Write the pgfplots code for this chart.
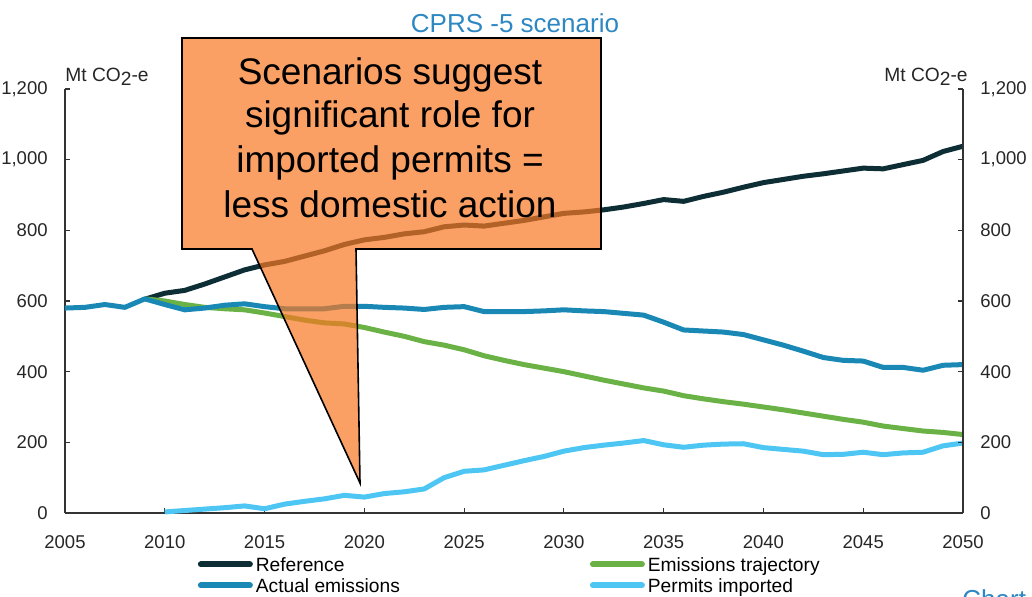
\documentclass[border=0pt]{standalone}
\usepackage{pgfplots}
\pgfplotsset{compat=1.18}
\usepackage{fontspec}
\setmainfont{Liberation Sans}
\definecolor{refc}{RGB}{14,46,54}
\definecolor{actc}{RGB}{26,136,180}
\definecolor{trjc}{RGB}{106,178,69}
\definecolor{prmc}{RGB}{77,198,244}
\definecolor{titc}{RGB}{45,135,195}
\definecolor{callc}{RGB}{248,119,34}
\begin{document}
\begin{tikzpicture}[x=1pt,y=1pt]
\useasboundingbox (0,0) rectangle (516,298.5);
\begin{axis}[
  scale only axis, width=449pt, height=212pt,
  at={(32.5pt,42pt)}, anchor=south west,
  xmin=2005, xmax=2050, ymin=0, ymax=1200,
  axis x line*=bottom, axis y line*=left,
  axis line style={black!80, line width=0.6pt},
  tick style={black!80, line width=0.6pt},
  tick align=inside, major tick length=2.5pt,
  xtick={2005,2010,...,2050}, ytick={0,200,...,1200},
  /pgf/number format/assume math mode=true,
  xticklabel={\pgfmathprintnumber[1000 sep={}]{\tick}},
  yticklabel={\pgfmathprintnumber[1000 sep={,}]{\tick}},
  ticklabel style={font=\fontsize{9.25}{11}\selectfont, text=black!85},
  xticklabel style={anchor=north, inner sep=0pt, yshift=-11pt},
  yticklabel style={anchor=east, inner sep=0pt, xshift=-8.5pt},
  legend columns=2,
  legend style={at={(0.1475,-0.105)}, anchor=north west, draw=none, fill=none,
    inner sep=0pt, font=\fontsize{9.6}{10.5}\selectfont,
    nodes={inner xsep=1.5pt, inner ysep=0pt, text height=7pt, text depth=3.5pt},
    /tikz/every even column/.append style={column sep=93.5pt},
    row sep=0pt, cells={anchor=west}},
  legend image code/.code={\draw[#1, line width=3pt, line cap=round] (0pt,2pt) -- (24.5pt,2pt);},
  every axis plot/.append style={line width=2.5pt, line join=round},
  clip=false,
]
\addplot[refc, mark=none] coordinates {
(2009,605) (2010,622) (2011,630) (2012,648) (2013,668) (2014,688) (2015,702)
(2016,712) (2017,727) (2018,742) (2019,760) (2020,773) (2021,780) (2022,790)
(2023,796) (2024,810) (2025,815) (2026,812) (2027,820) (2028,828) (2029,838)
(2030,848) (2031,852) (2032,858) (2033,866) (2034,876) (2035,887) (2036,882)
(2037,896) (2038,908) (2039,922) (2040,935) (2041,944) (2042,953) (2043,960)
(2044,968) (2045,976) (2046,974) (2047,986) (2048,998) (2049,1023) (2050,1038)
};
\addlegendentry{Reference}
\addplot[trjc, mark=none] coordinates {
(2009,606) (2010,600) (2011,590) (2012,582) (2013,578) (2014,575) (2015,566)
(2016,556) (2017,546) (2018,538) (2019,535) (2020,525) (2021,512) (2022,500)
(2023,485) (2024,475) (2025,462) (2026,445) (2027,432) (2028,420) (2029,410)
(2030,400) (2031,388) (2032,376) (2033,365) (2034,354) (2035,345) (2036,332)
(2037,323) (2038,315) (2039,308) (2040,300) (2041,292) (2042,283) (2043,274)
(2044,265) (2045,257) (2046,246) (2047,239) (2048,232) (2049,228) (2050,222)
};
\addlegendentry{Emissions trajectory}
\addplot[actc, mark=none] coordinates {
(2005,580) (2006,582) (2007,590) (2008,582) (2009,606) (2010,590) (2011,575)
(2012,580) (2013,588) (2014,592) (2015,584) (2016,578) (2017,578) (2018,578)
(2019,585) (2020,585) (2021,582) (2022,580) (2023,576) (2024,582) (2025,584)
(2026,570) (2027,570) (2028,570) (2029,572) (2030,575) (2031,572) (2032,570)
(2033,565) (2034,560) (2035,540) (2036,518) (2037,515) (2038,512) (2039,505)
(2040,490) (2041,475) (2042,458) (2043,440) (2044,432) (2045,430) (2046,412)
(2047,412) (2048,404) (2049,418) (2050,420)
};
\addlegendentry{Actual emissions}
\addplot[prmc, mark=none] coordinates {
(2010,3) (2011,7) (2012,11) (2013,15) (2014,20) (2015,12) (2016,25) (2017,33)
(2018,40) (2019,50) (2020,45) (2021,55) (2022,60) (2023,68) (2024,100)
(2025,118) (2026,122) (2027,135) (2028,148) (2029,160) (2030,175) (2031,185)
(2032,192) (2033,198) (2034,205) (2035,193) (2036,186) (2037,192) (2038,195)
(2039,196) (2040,185) (2041,180) (2042,175) (2043,165) (2044,166) (2045,172)
(2046,165) (2047,170) (2048,172) (2049,190) (2050,198)
};
\addlegendentry{Permits imported}
\end{axis}
\begin{axis}[
  scale only axis, width=449pt, height=212pt,
  at={(32.5pt,42pt)}, anchor=south west,
  xmin=2005, xmax=2050, ymin=0, ymax=1200,
  axis x line=none, axis y line*=right,
  axis line style={black!80, line width=0.6pt},
  tick style={black!80, line width=0.6pt},
  tick align=inside, major tick length=2.5pt,
  ytick={0,200,...,1200},
  /pgf/number format/assume math mode=true,
  yticklabel={\pgfmathprintnumber[1000 sep={,}]{\tick}},
  ticklabel style={font=\fontsize{9.25}{11}\selectfont, text=black!85},
  yticklabel style={anchor=west, inner sep=0pt, xshift=8.5pt},
]
\end{axis}
% unit labels
\node[anchor=base west, inner sep=0pt, font=\fontsize{9.6}{10}\selectfont, text=black!85] at (32.5,257.5) {Mt CO\raisebox{-0.35ex}{2}-e};
\node[anchor=base east, inner sep=0pt, font=\fontsize{9.6}{10}\selectfont, text=black!85] at (484,257.5) {Mt CO\raisebox{-0.35ex}{2}-e};
% title
\node[anchor=base, inner sep=0pt, font=\fontsize{13}{15}\selectfont, text=titc] at (257.5,282) {CPRS -5 scenario};
% callout
\draw[fill=callc, fill opacity=0.7, draw=black, line width=0.8pt, line join=miter]
  (91,279.5) -- (300.5,279.5) -- (300.5,174) -- (178,174) -- (180,57) -- (126,174) -- (91,174) -- cycle;
\begin{scope}[every node/.style={anchor=base, inner sep=0pt, font=\fontsize{18.5}{22}\selectfont}]
\node at (195,256) {Scenarios suggest};
\node at (195,234.5) {significant role for};
\node at (195,212) {imported permits =};
\node at (195,189.5) {less domestic action};
\end{scope}
\node[anchor=base west, inner sep=0pt, font=\fontsize{13}{15}\selectfont, text=titc] at (481,-5.8) {Chart};
\end{tikzpicture}
\end{document}
